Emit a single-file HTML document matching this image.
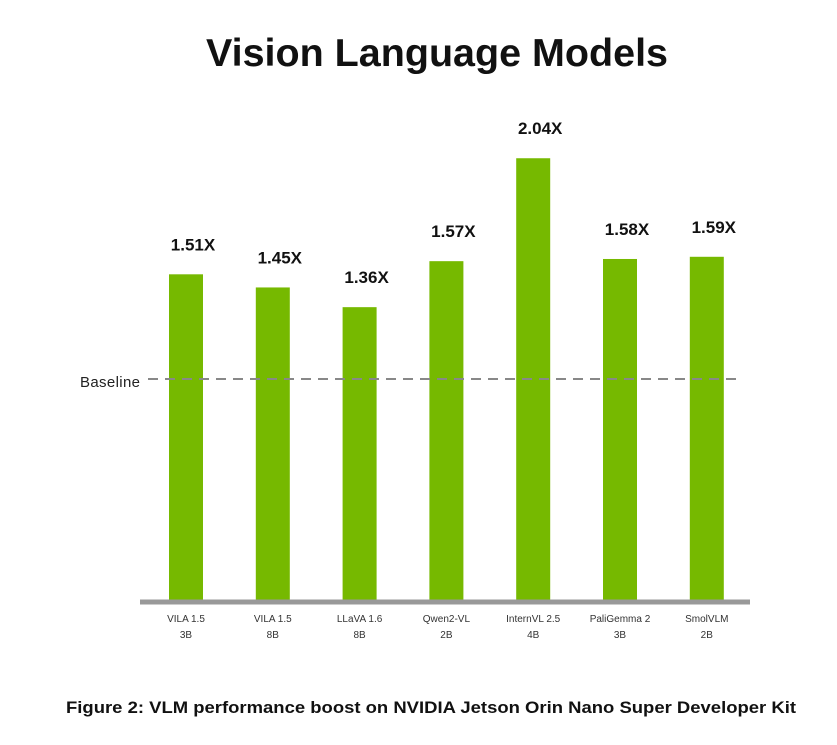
<!DOCTYPE html>
<html><head><meta charset="utf-8"><style>
body{margin:0;background:#fff;width:837px;height:740px;overflow:hidden;font-family:"Liberation Sans",sans-serif}
</style></head><body>
<svg width="837" height="740" xmlns="http://www.w3.org/2000/svg">
<text x="437" y="66" text-anchor="middle" font-size="39" font-weight="bold" fill="#111" textLength="462" lengthAdjust="spacingAndGlyphs" font-family="Liberation Sans, sans-serif">Vision Language Models</text>
<g id="bars"></g>
<line x1="140" y1="602" x2="750" y2="602" stroke="#999" stroke-width="5"/>
<text x="80" y="387" font-size="15" fill="#222" textLength="60">Baseline</text>
<text x="66" y="713" font-size="16.5" font-weight="bold" fill="#111" textLength="730" lengthAdjust="spacingAndGlyphs">Figure 2:  VLM performance boost on NVIDIA Jetson Orin Nano Super Developer Kit</text>
</svg>
<script>
const categories=["VILA 1.5","VILA 1.5","LLaVA 1.6","Qwen2-VL","InternVL 2.5","PaliGemma 2","SmolVLM"];
const sizes=["3B","8B","8B","2B","4B","3B","2B"];
const values=[1.51,1.45,1.36,1.57,2.04,1.58,1.59];
const valueLabels=["1.51X","1.45X","1.36X","1.57X","2.04X","1.58X","1.59X"];
const baselineValue=1.0;
const NS="http://www.w3.org/2000/svg";
const svg=document.querySelector('svg');
const g=document.getElementById('bars');
function y(v){return 605-219*v;}
function xc(i){return 186+i*86.8;}
function mk(t,a){const e=document.createElementNS(NS,t);for(const k in a)e.setAttribute(k,a[k]);return e;}
values.forEach((v,i)=>{
 const r=mk('rect',{x:xc(i)-17,y:y(v),width:34,height:600-y(v),fill:'#76b900'});
 
 
 g.appendChild(r);
 const t=mk('text',{x:xc(i)+7,y:y(v)-24,'text-anchor':'middle','font-size':17,'font-weight':'bold',fill:'#111'});
 t.textContent=valueLabels[i];
 
 
 g.appendChild(t);
 const c=mk('text',{x:xc(i),y:622,'text-anchor':'middle','font-size':10,fill:'#333'});
 c.textContent=categories[i];
 
 
 g.appendChild(c);
 const s=mk('text',{x:xc(i),y:638,'text-anchor':'middle','font-size':10,fill:'#333'});
 s.textContent=sizes[i];
 
 
 g.appendChild(s);
});
const by=y(baselineValue)-7;
const bl=mk('line',{x1:148,y1:by,x2:740,y2:by,stroke:'#888','stroke-width':2,'stroke-dasharray':'10,7'});


svg.appendChild(bl);
</script>
</body></html>
